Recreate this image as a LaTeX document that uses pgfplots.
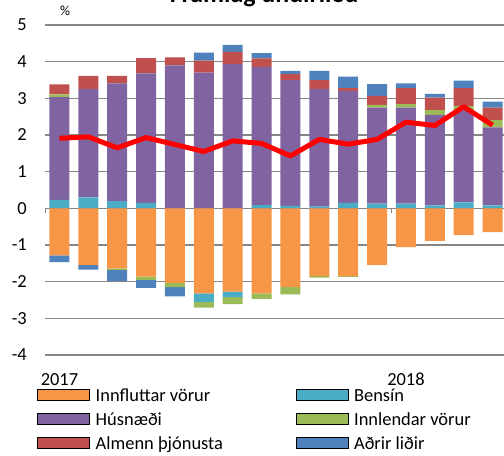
\documentclass[border=0pt]{standalone}
\usepackage{fontspec}
\setmainfont{Carlito}
\usepackage{pgfplots}
\usepackage{pgfplotstable}
\pgfplotsset{compat=1.18}
\definecolor{cOr}{HTML}{F79646}
\definecolor{cTe}{HTML}{4BACC6}
\definecolor{cPu}{HTML}{8064A2}
\definecolor{cGr}{HTML}{9BBB59}
\definecolor{cRe}{HTML}{C0504D}
\definecolor{cBl}{HTML}{4F81BD}
\definecolor{cGrid}{HTML}{868686}

\pgfplotstableread{
x te pu gr re bl
0 0.23 2.80 0.08 0.27 0
1 0.30 2.95 0 0.36 0
2 0.20 3.21 0 0.20 0
3 0.15 3.53 0 0.42 0
4 0 3.90 0 0.22 0
5 0 3.70 0 0.33 0.22
6 0 3.93 0 0.34 0.19
7 0.09 3.77 0 0.23 0.14
8 0.07 3.43 0 0.16 0.09
9 0.05 3.20 0 0.25 0.25
10 0.15 3.05 0 0.08 0.31
11 0.13 2.62 0.07 0.25 0.32
12 0.13 2.62 0.09 0.44 0.13
13 0.08 2.47 0.13 0.34 0.10
14 0.16 2.52 0.11 0.49 0.20
15 0.08 2.13 0.20 0.34 0.16
}\pos

\pgfplotstableread{
x or te gr bl
0 -1.28 0 0 -0.19
1 -1.55 0 0 -0.12
2 -1.64 0 -0.04 -0.30
3 -1.86 0 -0.09 -0.22
4 -2.04 0 -0.11 -0.25
5 -2.32 -0.23 -0.16 0
6 -2.27 -0.15 -0.19 0
7 -2.32 0 -0.15 0
8 -2.15 0 -0.20 0
9 -1.85 0 -0.04 0
10 -1.85 0 -0.02 0
11 -1.55 0 0 0
12 -1.06 0 0 0
13 -0.89 0 0 0
14 -0.73 0 0 0
15 -0.65 0 0 0
}\neg

\pgfplotstableread{
x v
0 1.91
1 1.95
2 1.65
3 1.93
4 1.74
5 1.55
6 1.84
7 1.77
8 1.43
9 1.88
10 1.75
11 1.88
12 2.35
13 2.26
14 2.77
15 2.27
}\linet

\pgfplotsset{
  base/.style={
    at={(45bp,101bp)}, anchor=south west,
    scale only axis, width=462bp, height=330bp,
    xmin=-0.5, xmax=15.5, ymin=-4, ymax=5,
  },
  bars/.style={base, hide axis, ybar stacked, bar width=20bp},
}

\begin{document}
\begin{tikzpicture}
\path[use as bounding box] (0,0) rectangle (504bp,456bp);
\clip (0,0) rectangle (504bp,456bp);

\begin{axis}[base,
  ymajorgrids, grid style={cGrid, line width=1.3bp},
  axis line style={draw=none},
  ytick={-4,-3,-2,-1,0,1,2,3,4,5},
  xtick={0,12}, xticklabels={2017,2018},
  major tick length=0pt,
  /pgf/number format/assume math mode=true,
  tick label style={font=\fontsize{18.5}{20}\selectfont, inner sep=0pt},
  yticklabel style={anchor=east, xshift=-18bp},
  xticklabel style={anchor=north, yshift=-18bp},
  legend columns=2,
  legend cell align=left,
  legend image code/.code={\fill[#1] (0bp,-4.5bp) rectangle (52bp,6.5bp);},
  legend style={draw=none, fill=none,
    at={(axis description cs:-0.0235,-0.09)}, anchor=north west,
    font=\fontsize{18.5}{22}\selectfont,
    row sep=5.5bp,
    /tikz/every odd column/.append style={column sep=4bp}},
]
\addlegendimage{fill=cOr}\addlegendentry{\makebox[198bp][l]{Innfluttar vörur}}
\addlegendimage{fill=cTe}\addlegendentry{Bensín}
\addlegendimage{fill=cPu}\addlegendentry{\makebox[198bp][l]{Húsnæði}}
\addlegendimage{fill=cGr}\addlegendentry{Innlendar vörur}
\addlegendimage{fill=cRe}\addlegendentry{\makebox[198bp][l]{Almenn þjónusta}}
\addlegendimage{fill=cBl}\addlegendentry{Aðrir liðir}
\end{axis}

\begin{axis}[bars]
\addplot[fill=cTe, draw=none] table[x=x, y=te]{\pos};
\addplot[fill=cPu, draw=none] table[x=x, y=pu]{\pos};
\addplot[fill=cGr, draw=none] table[x=x, y=gr]{\pos};
\addplot[fill=cRe, draw=none] table[x=x, y=re]{\pos};
\addplot[fill=cBl, draw=none] table[x=x, y=bl]{\pos};
\end{axis}

\begin{axis}[bars]
\addplot[fill=cOr, draw=none] table[x=x, y=or]{\neg};
\addplot[fill=cTe, draw=none] table[x=x, y=te]{\neg};
\addplot[fill=cGr, draw=none] table[x=x, y=gr]{\neg};
\addplot[fill=cBl, draw=none] table[x=x, y=bl]{\neg};
\end{axis}

\begin{axis}[base, hide axis]
\addplot[cGrid, line width=1.3bp] coordinates {(-0.5,0) (-0.5,-0.14)};
\addplot[cGrid, line width=1.3bp] coordinates {(11.5,0) (11.5,-0.14)};
\addplot[red, line width=5bp, line join=round] table[x=x, y=v]{\linet};
\end{axis}

\node[anchor=base, font=\fontsize{26}{28}\selectfont\bfseries] at (264bp,453bp) {Framlag undirliða};
\node[font=\fontsize{14}{16}\selectfont] at (65bp,445bp) {\%};
\end{tikzpicture}
\end{document}
